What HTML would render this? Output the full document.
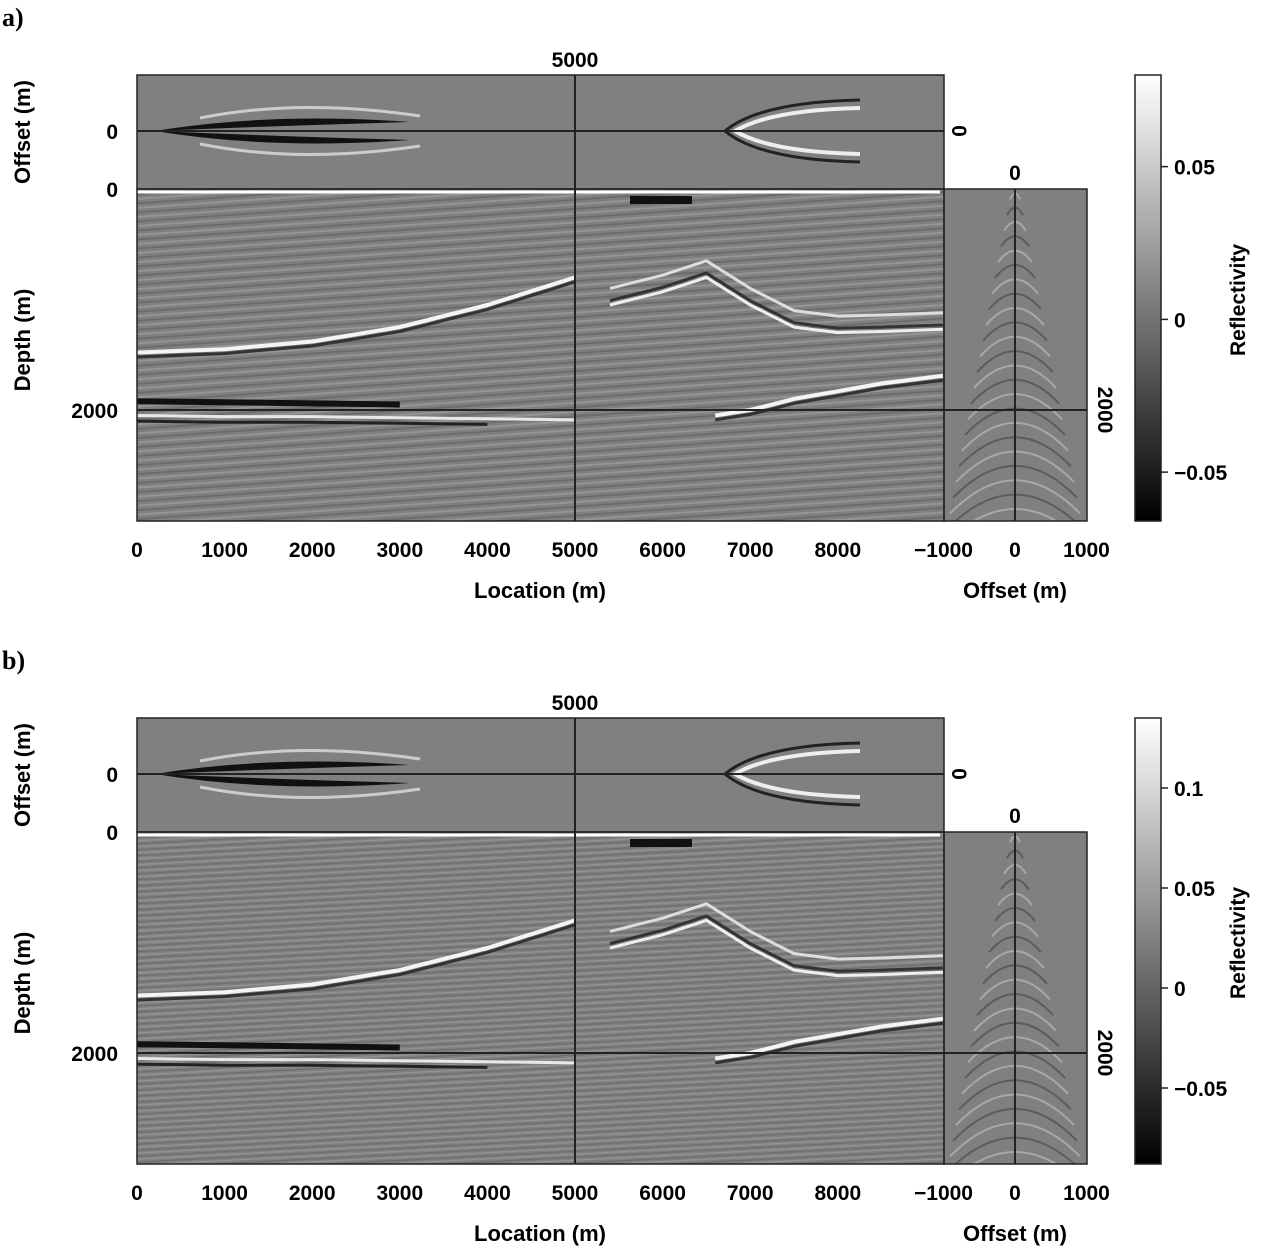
<!DOCTYPE html>
<html><head><meta charset="utf-8">
<style>
html,body{margin:0;padding:0;background:#fff;}
svg{display:block;font-family:"Liberation Sans",sans-serif;font-weight:bold;}
</style></head>
<body>
<svg id="fig" width="1280" height="1252" viewBox="0 0 1280 1252" xmlns="http://www.w3.org/2000/svg">
<defs>
<pattern id="strA" width="40" height="9" patternUnits="userSpaceOnUse" patternTransform="rotate(-4)">
<rect width="40" height="9" fill="#7f7f7f"/>
<rect y="0" width="40" height="2" fill="#949494"/>
<rect y="4.5" width="40" height="2" fill="#6c6c6c"/>
</pattern>
<pattern id="strB" width="40" height="6" patternUnits="userSpaceOnUse" patternTransform="rotate(-3)">
<rect width="40" height="6" fill="#808080"/>
<rect y="0" width="40" height="1.2" fill="#959595"/>
<rect y="3" width="40" height="1.2" fill="#6c6c6c"/>
</pattern>
<clipPath id="clipG"><rect x="944" y="189" width="143" height="332"/></clipPath>
<linearGradient id="cbar" x1="0" y1="0" x2="0" y2="1">
<stop offset="0" stop-color="#fff"/><stop offset="1" stop-color="#000"/>
</linearGradient>
</defs>
</svg>
<script>
// ---- data ----
const locTicks=[0,1000,2000,3000,4000,5000,6000,7000,8000];
const offTicks=[-1000,0,1000];
const cbarTicksA=[0.05,0,-0.05];
const cbarTicksB=[0.1,0.05,0,-0.05];
const cbarRangeA=[-0.066,0.08];
const cbarRangeB=[-0.088,0.135];
// reflectors: depth (m) at these locations (m)
const horizonLocs=[0,1000,2000,3000,4000,5000];
const horizonWhite1=[1480,1450,1380,1250,1050,800];
const horizonBlack1=[1920,1930,1940,1950,1960,1980];
const horizonWhite2=[2050,2060,2060,2070,2080,2090];
const horizonRightLocs=[6600,7000,7500,8000,8500,9200];
const horizonRight=[2050,2000,1900,1830,1760,1690];
const horizonMidLocs=[5400,6000,6500,7000,7500,8000,8500,9200];
const horizonMid=[900,780,650,900,1100,1150,1140,1120];

const svg=document.getElementById('fig');
const NS='http://www.w3.org/2000/svg';
function el(t,a,p){const e=document.createElementNS(NS,t);for(const k in a)e.setAttribute(k,a[k]);(p||svg).appendChild(e);return e;}

function panel(dy,label,cticks,crange,pat){
  const g=el('g',{transform:'translate(0,'+dy+')'});
  
  
  const X=v=>137+v*0.0876;
  const Z=v=>189+v*0.1105;
  const OX=v=>1015+v*0.0715;
  const t=el('text',{x:2,y:26,'font-size':26,'font-family':'Liberation Serif,serif'},g);t.textContent=label+')';
  
  const m=el('rect',{x:137,y:189,width:807,height:332,fill:'url(#'+pat+')'},g);
  
  const top=el('rect',{x:137,y:75,width:807,height:114,fill:'#808080'},g);
  
  const rp=el('rect',{x:944,y:189,width:143,height:332,fill:'#808080'},g);
  
  const gg=el('g',{'clip-path':'url(#clipG)'},g);
  for(let i=0;i<26;i++){
    const zz=195+i*13, w=5+i*3;
    el('path',{d:`M${1015-w} ${zz+w*0.9} Q1015 ${zz-8} ${1015+w} ${zz+w*0.9}`,fill:'none',stroke:i%2?'#5c5c5c':'#a8a8a8','stroke-width':2},gg);
  }
  el('path',{d:'M155 131 Q270 112 410 122 Q270 126 155 131Z',fill:'#111'},g);
  el('path',{d:'M155 131 Q270 150 410 140 Q270 136 155 131Z',fill:'#111'},g);
  el('path',{d:'M200 118 Q300 98 420 116',fill:'none',stroke:'#ccc','stroke-width':3},g);
  el('path',{d:'M200 144 Q300 164 420 146',fill:'none',stroke:'#ccc','stroke-width':3},g);
  el('path',{d:'M860 108 Q770 110 735 131 Q770 152 860 154',fill:'none',stroke:'#eee','stroke-width':4},g);
  el('path',{d:'M860 100 Q760 102 725 131 Q760 160 860 162',fill:'none',stroke:'#222','stroke-width':3},g);
  function curve(locs,dep,col,w){
    let d='';locs.forEach((l,i)=>{d+=(i?'L':'M')+X(l).toFixed(1)+' '+Z(dep[i]).toFixed(1)+' ';});
    const p=el('path',{d:d,fill:'none',stroke:col,'stroke-width':w,'stroke-linejoin':'round'},g);
    
  }
  curve(horizonLocs,horizonWhite1,'#f4f4f4',4);
  curve(horizonLocs,horizonWhite1.map(v=>v+40),'#333',3);
  curve(horizonLocs.slice(0,4),horizonBlack1.slice(0,4),'#111',6);
  curve(horizonLocs,horizonWhite2,'#e8e8e8',3);
  curve(horizonLocs.slice(0,5),horizonWhite2.map(v=>v+50).slice(0,5),'#222',3);
  curve(horizonRightLocs,horizonRight,'#f4f4f4',4);
  curve(horizonRightLocs,horizonRight.map(v=>v+40),'#333',3);
  curve(horizonMidLocs,horizonMid,'#ddd',3);
  curve(horizonMidLocs,horizonMid.map(v=>v+150),'#eee',3);
  curve(horizonMidLocs,horizonMid.map(v=>v+110),'#333',3);
  el('line',{x1:137,y1:192,x2:940,y2:192,stroke:'#fff','stroke-width':3},g);
  el('rect',{x:630,y:196,width:62,height:8,fill:'#111'},g);
  [[137,75,807,114],[137,189,807,332],[944,189,143,332]].forEach(r=>el('rect',{x:r[0],y:r[1],width:r[2],height:r[3],fill:'none',stroke:'#222','stroke-width':1.5},g));
  el('line',{x1:X(5000),y1:75,x2:X(5000),y2:521,stroke:'#222','stroke-width':2},g);
  el('line',{x1:137,y1:131,x2:944,y2:131,stroke:'#222','stroke-width':2},g);
  el('line',{x1:137,y1:Z(2000),x2:1087,y2:Z(2000),stroke:'#222','stroke-width':2},g);
  el('line',{x1:1015,y1:189,x2:1015,y2:521,stroke:'#222','stroke-width':2},g);
  function txt(x,y,s,fs,anchor,rot){
    const a={x:x,y:y,'font-size':fs,'text-anchor':anchor||'middle'};
    if(rot)a.transform=`rotate(${rot} ${x} ${y})`;
    const e=el('text',a,g);e.textContent=s;
    return e;
  }
  locTicks.forEach(v=>txt(X(v),557,String(v),21));
  offTicks.forEach(v=>txt(OX(v),557,v<0?'\u2212'+(-v):String(v),21));
  txt(X(5000),67,'5000',21);
  txt(OX(0),180,'0',21);
  txt(118,139,'0',21,'end');
  txt(118,197,'0',21,'end');
  txt(118,418,'2000',21,'end');
  txt(952,131,'0',21,'middle',90);
  txt(1098,410,'2000',21,'middle',90);
  const xl=txt(540,598,'Location (m)',22);
  const ol=txt(1015,598,'Offset (m)',22);
  const yl=txt(30,132,'Offset (m)',22,'middle',-90);
  const dl=txt(30,340,'Depth (m)',22,'middle',-90);
  const cb=el('rect',{x:1135,y:75,width:26,height:446,fill:'url(#cbar)',stroke:'#222','stroke-width':1.5},g);
  
  const CY=v=>75+(crange[1]-v)/(crange[1]-crange[0])*446;
  cticks.forEach(v=>{
    el('line',{x1:1161,y1:CY(v),x2:1168,y2:CY(v),stroke:'#222','stroke-width':1.5},g);
    txt(1174,CY(v)+8,v<0?'\u2212'+String(-v):String(v),21,'start');
  });
  const cl=txt(1245,300,'Reflectivity',21,'middle',-90);
}
panel(0,'a',cbarTicksA,cbarRangeA,'strA');
panel(643,'b',cbarTicksB,cbarRangeB,'strB');
</script>
</body></html>
